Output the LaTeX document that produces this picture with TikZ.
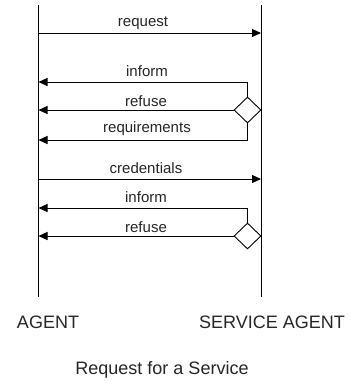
\documentclass[tikz,border=0pt]{standalone}
\usepackage{fontspec}
\setmainfont{Liberation Sans}
\usetikzlibrary{arrows.meta,shapes.geometric}
\begin{document}
\begin{tikzpicture}[x=1pt,y=-1pt,
  life/.style={draw=black,line width=0.9pt},
  msg/.style={draw=black,line width=0.9pt,-{Triangle[length=9pt,width=8pt]}},
  lbl/.style={font=\fontsize{15}{16}\selectfont,inner sep=0pt,text=black!85},
  big/.style={font=\fontsize{18}{20}\selectfont,inner sep=0pt,text=black!85},
  choice/.style={diamond,draw=black,line width=0.9pt,fill=white,minimum width=27pt,minimum height=26pt,inner sep=0pt}]
\useasboundingbox (0,0) rectangle (350,383);
% lifelines
\coordinate (Ltop) at (38.5,5);
\coordinate (Lbot) at (38.5,297);
\coordinate (Rtop) at (261,5);
\coordinate (Rbot) at (261,297);
\draw[life] (Ltop) -- (Lbot);
\draw[life] (Rtop) -- (Rbot);
% message endpoints
\coordinate (L1) at (38.5,33);
\coordinate (R1) at (261,33);
\coordinate (L2) at (38.5,82);
\coordinate (L3) at (38.5,110);
\coordinate (L4) at (38.5,140);
\coordinate (L5) at (38.5,179);
\coordinate (R5) at (261,179);
\coordinate (L6) at (38.5,208);
\coordinate (L7) at (38.5,236);
% choices
\node[choice] (d1) at (247.5,110) {};
\node[choice] (d2) at (247.5,236) {};
% messages
\draw[msg] (L1) -- (R1);
\draw[msg] (d1.north) |- (L2);
\draw[msg] (d1.west) -- (L3);
\draw[msg] (d1.south) |- (L4);
\draw[msg] (L5) -- (R5);
\draw[msg] (d2.north) |- (L6);
\draw[msg] (d2.west) -- (L7);
% labels
\node[lbl] (t1) at (143,23) {request};
\node[lbl] (t2) at (147,71) {inform};
\node[lbl] (t3) at (146,101) {refuse};
\node[lbl] (t4) at (147,129) {requirements};
\node[lbl] (t5) at (146,168) {credentials};
\node[lbl] (t6) at (146,197) {inform};
\node[lbl] (t7) at (146,227) {refuse};
\node[big] (a) at (48,322) {AGENT};
\node[big] (s) at (272,322) {SERVICE AGENT};
\node[big] (c) at (162,370) {Request for a Service};
\end{tikzpicture}
\end{document}
